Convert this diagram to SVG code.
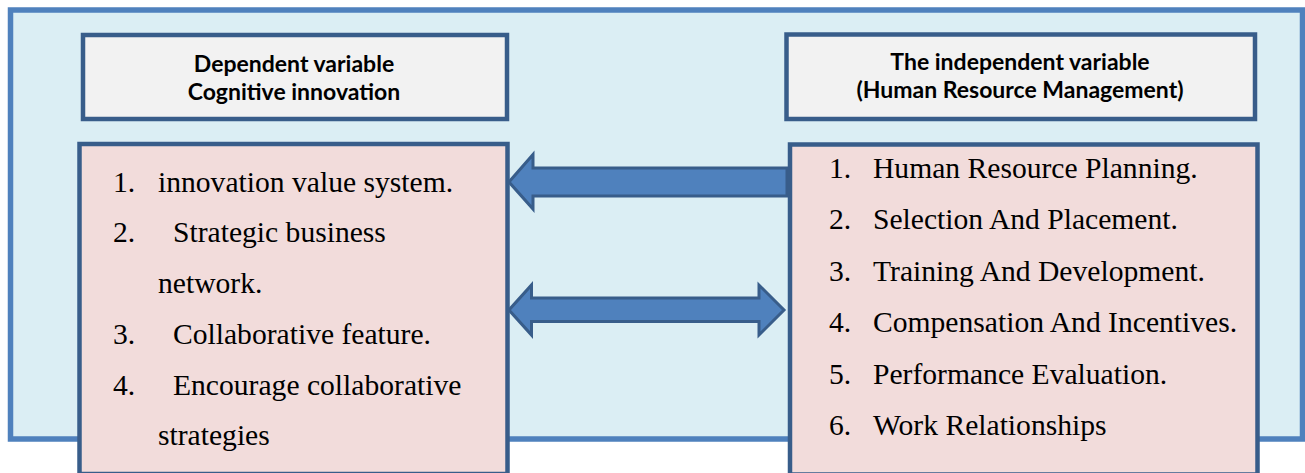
<svg xmlns="http://www.w3.org/2000/svg" width="1305" height="473" viewBox="0 0 1305 473">
<style>
.hdr{fill:#F2F2F2;stroke:#385D8A;stroke-width:4.5}
.lst{fill:#F2DCDB;stroke:#385D8A;stroke-width:4.5}
.ht{font-family:Lato,"Liberation Sans",sans-serif;font-weight:bold;font-size:23px;fill:#000;text-anchor:middle}
.lt{font-family:"Liberation Serif","Times New Roman",serif;font-size:29.6px;fill:#000}
.arr{fill:#4F81BD;stroke:#385D8A;stroke-width:3;stroke-linejoin:miter}
</style>
<rect id="frame" x="10.5" y="10" width="1292" height="429" fill="#DBEEF4" stroke="#4F81BD" stroke-width="5.5"/>
<g id="connectors">
<polygon class="arr" points="509,182 533,154.5 533,168 787,168 787,196 533,196 533,209"/>
<polygon class="arr" points="509,310 531.5,285 531.5,298 759,298 759,285 784,310 759,335 759,321.5 531.5,321.5 531.5,335"/>
</g>
<g id="dep-header">
<rect class="hdr" x="83" y="35" width="424" height="84"/>
<text class="ht" x="294" y="71.5">Dependent variable</text>
<text class="ht" x="294" y="100">Cognitive innovation</text>
</g>
<g id="indep-header">
<rect class="hdr" x="786.5" y="34.5" width="468.5" height="84.5"/>
<text class="ht" x="1020" y="70">The independent variable</text>
<text class="ht" x="1020" y="98">(Human Resource Management)</text>
</g>
<g id="dep-list">
<rect class="lst" x="79.5" y="144" width="428" height="330"/>
<text class="lt" x="113" y="191.5">1.</text><text class="lt" x="158" y="191.5">innovation value system.</text>
<text class="lt" x="113" y="242.3">2.</text><text class="lt" x="173" y="242.3">Strategic business</text>
<text class="lt" x="158" y="293">network.</text>
<text class="lt" x="113" y="343.7">3.</text><text class="lt" x="173" y="343.7">Collaborative feature.</text>
<text class="lt" x="113" y="394.5">4.</text><text class="lt" x="173" y="394.5">Encourage collaborative</text>
<text class="lt" x="158" y="445.3">strategies</text>
</g>
<g id="indep-list">
<rect class="lst" x="790" y="144.5" width="467.5" height="330"/>
<text class="lt" x="829" y="177.5">1.</text><text class="lt" x="873" y="177.5">Human Resource Planning.</text>
<text class="lt" x="829" y="229">2.</text><text class="lt" x="873" y="229">Selection And Placement.</text>
<text class="lt" x="829" y="280.5">3.</text><text class="lt" x="873" y="280.5">Training And Development.</text>
<text class="lt" x="829" y="332">4.</text><text class="lt" x="873" y="332">Compensation And Incentives.</text>
<text class="lt" x="829" y="383.5">5.</text><text class="lt" x="873" y="383.5">Performance Evaluation.</text>
<text class="lt" x="829" y="435">6.</text><text class="lt" x="873" y="435">Work Relationships</text>
</g>
</svg>
